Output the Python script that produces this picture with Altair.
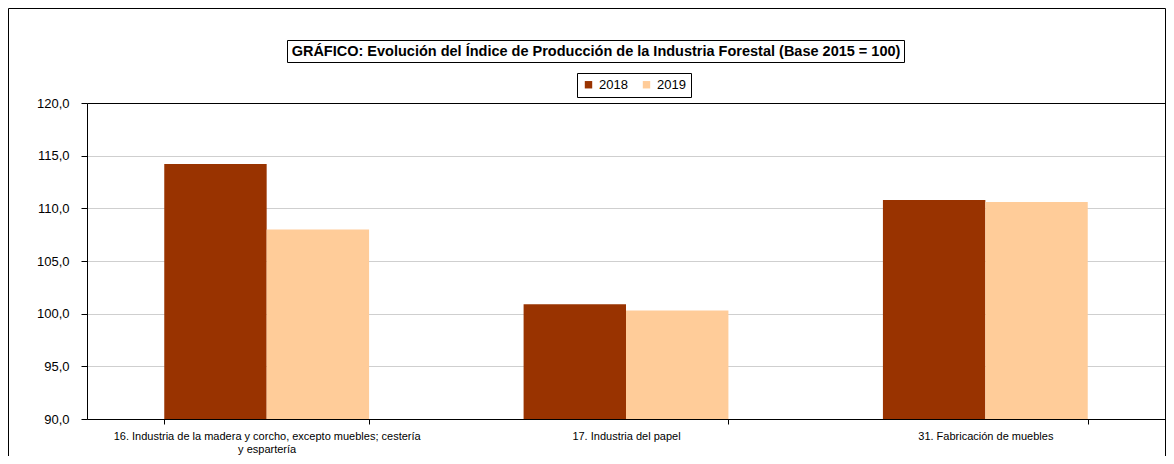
import altair as alt
import pandas as pd

categories = [
    "16. Industria de la madera y corcho, excepto  muebles; cestería y espartería",
    "17. Industria del papel",
    "31. Fabricación de muebles",
]
years = ["2018", "2019"]
values_2018 = [114.2, 100.9, 110.8]
values_2019 = [108.0, 100.3, 110.6]
colors = ["#993300", "#FFCC99"]
title_text = "GRÁFICO: Evolución del Índice de Producción de la Industria Forestal (Base 2015 = 100)"

rows = []
for c, a, b in zip(categories, values_2018, values_2019):
    rows.append({"cat": c, "year": "2018", "value": a})
    rows.append({"cat": c, "year": "2019", "value": b})
df = pd.DataFrame(rows)

W, H = 1078, 316
FONT = "Liberation Sans"

label_expr = (
    f"datum.label == '{categories[0]}' ? "
    "['16. Industria de la madera y corcho, excepto  muebles; cestería', 'y espartería'] : datum.label"
)

bars = alt.Chart(df).mark_bar(clip=True).encode(
    x=alt.X("cat:N", sort=categories, title=None,
            scale=alt.Scale(paddingInner=0.43, paddingOuter=0.215),
            axis=alt.Axis(labelAngle=0, labelExpr=label_expr, labelLimit=600,
                          labelFontSize=11, labelFont=FONT, labelColor="#000",
                          labelPadding=6, tickBand="extent", tickSize=5,
                          labelOverlap=False,
                          tickColor="#000", domainColor="#000", grid=False)),
    xOffset=alt.XOffset("year:N", sort=years,
                        scale=alt.Scale(paddingInner=0, paddingOuter=0)),
    y=alt.Y("value:Q", title=None,
            scale=alt.Scale(domain=[90, 120], nice=False, zero=False),
            axis=alt.Axis(values=[90, 95, 100, 105, 110, 115, 120],
                          labelExpr="replace(format(datum.value, '.1f'), '.', ',')",
                          labelFontSize=13, labelFont=FONT, labelColor="#000",
                          labelPadding=12, tickSize=6, tickColor="#000",
                          domainColor="#000",
                          gridColor={"condition": {"test": "datum.value === 120", "value": "#000"},
                                     "value": "#cfcfcf"})),
    color=alt.Color("year:N", sort=years, title=None,
                    scale=alt.Scale(domain=years, range=colors),
                    legend=alt.Legend(orient="none", legendX=490, legendY=-30,
                                      direction="horizontal", symbolType="square",
                                      symbolSize=55, labelFontSize=13, labelFont=FONT,
                                      labelColor="#000", strokeColor="#000",
                                      padding=5, columnPadding=12, symbolStrokeWidth=0)),
)

frame = alt.Chart(pd.DataFrame({"a": [0]})).mark_rect(
    fill=None, stroke="#000", strokeWidth=1
).encode(x=alt.value(-78.5), x2=alt.value(W + 0.5), y=alt.value(-94.5), y2=alt.value(H + 40))

tbox = alt.Chart(pd.DataFrame({"a": [0]})).mark_rect(
    fill=None, stroke="#000", strokeWidth=1
).encode(x=alt.value(200.5), x2=alt.value(817.5), y=alt.value(-62.5), y2=alt.value(-40.5))

ttext = alt.Chart(pd.DataFrame({"t": [title_text]})).mark_text(
    font=FONT, fontSize=14.5, fontWeight="bold", color="#000", baseline="middle", align="center"
).encode(text="t:N", x=alt.value(509), y=alt.value(-51))

chart = alt.layer(frame, bars, tbox, ttext).properties(
    width=W, height=H,
    autosize=alt.AutoSizeParams(type="none"),
    padding={"left": 79, "top": 95, "right": 1, "bottom": 37},
).configure_view(stroke=None).configure(background="white")

chart.save("out.html", embed_options={"renderer": "svg", "actions": False})
